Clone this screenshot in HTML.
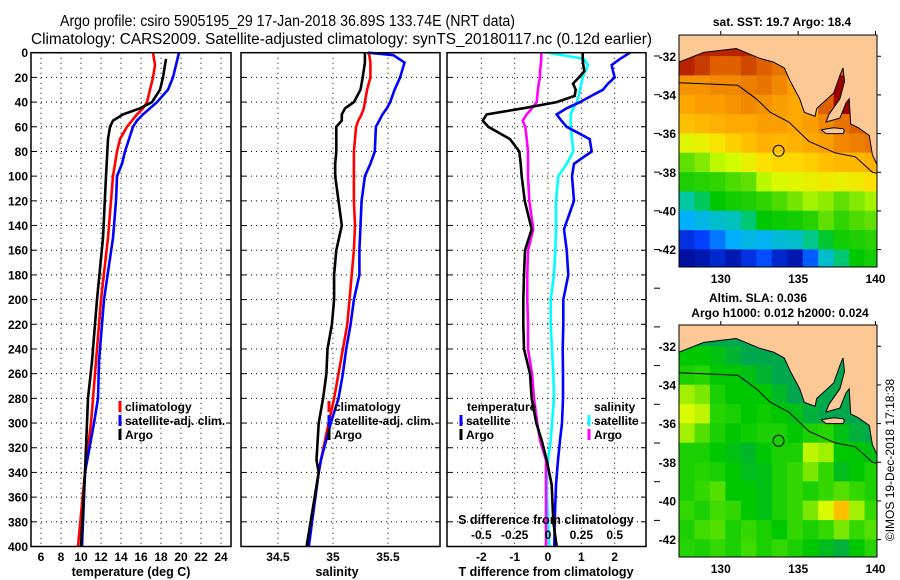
<!DOCTYPE html>
<html><head><meta charset="utf-8"><style>
html,body{margin:0;padding:0;background:#fff}
svg{display:block}
text{font-family:"Liberation Sans",Arial,sans-serif}
</style></head>
<body>
<svg id="chart" width="900" height="580" viewBox="0 0 900 580" xmlns="http://www.w3.org/2000/svg"></svg>
<script>
// ---------- DATA ----------
const depthT = [0,10,20,30,40,45,50,55,60,70,80,90,100,120,150,200,250,280,300,340,400];
const tempClim = [17.2,17.4,17.2,16.9,16.6,16.2,15.6,15.1,14.6,13.9,13.6,13.4,13.2,13.0,12.7,12.0,11.5,11.2,11.0,10.4,9.7];
const tempSat  = [19.8,19.5,19.2,18.7,17.6,16.9,16.2,15.6,15.2,14.8,14.4,14.1,13.6,13.5,13.2,12.3,11.8,11.7,11.3,10.4,10.1];
const depthArgo = [5,10,20,30,40,45,50,55,60,70,100,150,200,250,280,300,340,400];
const tempArgo = [18.5,18.4,18.2,17.9,17.1,15.9,14.2,13.2,12.9,12.7,12.5,12.2,11.6,11.1,10.7,10.6,10.4,10.0];

const depthS = [0,2,8,20,30,40,45,50,55,60,80,90,100,120,140,160,180,200,220,240,260,280,300,330,340,400];
const salClim = [35.32,35.33,35.34,35.34,35.31,35.29,35.28,35.26,35.23,35.21,35.19,35.19,35.19,35.19,35.2,35.19,35.17,35.15,35.13,35.09,35.05,35.01,34.96,34.89,34.87,34.77];
const salSat  = [35.32,35.55,35.65,35.61,35.56,35.52,35.49,35.45,35.42,35.39,35.38,35.34,35.29,35.26,35.25,35.24,35.24,35.19,35.16,35.12,35.09,35.05,34.98,34.89,34.87,34.78];
const salArgo = [35.29,35.29,35.29,35.27,35.25,35.19,35.11,35.08,35.08,35.03,35.03,35.02,35.02,35.05,35.08,35.03,35.01,35.01,34.99,34.95,34.94,34.91,34.87,34.85,34.87,34.76];

const depthD = [0,5,10,15,20,25,30,35,40,45,50,55,60,70,80,90,100,120,143,160,180,200,220,240,260,280,300,314,330,350,380,400];
const tDiffArgo = [1.04,1.04,1.06,1.09,0.93,0.75,0.83,0.8,0.26,-0.75,-1.84,-1.96,-1.79,-1.14,-0.86,-0.82,-0.79,-0.7,-0.49,-0.69,-0.72,-0.74,-0.74,-0.72,-0.54,-0.49,-0.35,-0.19,-0.04,0.11,0.16,0.26];
const tDiffSat  = [2.46,2.16,1.91,1.95,2.0,1.8,1.65,1.3,0.96,0.56,0.26,0.4,0.56,1.25,1.31,0.78,0.72,0.78,0.48,0.56,0.61,0.46,0.46,0.44,0.45,0.45,0.42,0.36,0.3,0.24,0.2,0.19];
const sDiffSat  = [0.0,0.27,0.3,0.28,0.26,0.25,0.24,0.23,0.215,0.19,0.17,0.17,0.17,0.18,0.19,0.14,0.077,0.06,0.06,0.055,0.045,0.02,0.02,0.03,0.04,0.045,0.03,0.02,0.0,-0.01,0.0,0.01];
const sDiffArgo = [-0.05,-0.05,-0.055,-0.06,-0.06,-0.07,-0.075,-0.08,-0.085,-0.12,-0.16,-0.19,-0.17,-0.16,-0.15,-0.15,-0.15,-0.14,-0.11,-0.15,-0.155,-0.155,-0.15,-0.15,-0.12,-0.105,-0.08,-0.06,-0.015,-0.015,-0.015,-0.015];

const depthTicks = [0,20,40,60,80,100,120,140,160,180,200,220,240,260,280,300,320,340,360,380,400];
const tempTicks = [6,8,10,12,14,16,18,20,22,24];
const salTicks = [34.5,35,35.5];
const tdTicks = [-2,-1,0,1,2];
const sdTicks = [-0.5,-0.25,0,0.25,0.5];
const sdTickLabels = ["-0.5","-0.25","0","0.25","0.5"];

// maps: 12 rows (lat -31..-43) x 13 cols (lon 127.3..140.3)
const sstGrid = [
[21.5,21.5,21.5,21.5,21.5,21.5,21.5,21.5,21.5,21.5,21.5,21.5,21.5],
[21.5,21.3,21,21,21.2,21,20.8,20.5,20.5,20.5,21,21,21],
[20.5,20.5,20.6,20.6,20.7,20.8,20.6,20.4,20.5,21.5,22,21,21],
[20.3,20.4,20.4,20.5,20.6,20.5,20.4,20.3,20.2,21,22,21.5,21],
[20.0,20.1,20.2,20.3,20.3,20.4,20.4,20.3,20.4,20.6,20.8,21,21],
[19.2,19.3,19.5,19.8,20,20.2,20.1,20.2,20.3,20.4,20.6,20.7,20.8],
[18,18.3,18.8,19,19.3,19.6,19.7,19.7,19.8,20,20.1,20.1,20.2],
[17.3,17.4,17.5,17.8,18,18.8,19.1,19.2,19.3,19.4,19.3,19.4,19.6],
[16.3,16.6,17,17.2,17.3,17.5,17.8,18.2,18.6,18.4,18,18.3,18.6],
[15.6,15.8,16,16.1,16.5,17,17.1,17.2,17.4,18,17.5,17.8,18],
[14.6,14.8,15.2,15.6,15.8,15.7,15.9,16,16.4,16.8,17.2,17.3,17.4],
[14.2,14.3,14.5,14.3,14.6,14.9,14.5,14.3,15,16,16.5,17,17.2]];
const slaGrid = [
[-0.08,-0.08,-0.08,-0.08,-0.08,-0.08,-0.08,-0.08,-0.08,-0.08,-0.08,-0.08,-0.08],
[0.0,0.0,-0.02,-0.05,-0.08,-0.08,-0.08,-0.08,-0.08,-0.08,-0.08,-0.08,-0.08],
[0.02,0.03,0.0,0.0,-0.02,-0.05,-0.08,-0.08,-0.08,-0.08,-0.08,-0.08,-0.08],
[0.1,0.08,0.02,0.0,0.0,0.0,-0.04,-0.08,-0.08,-0.08,-0.08,-0.08,-0.08],
[0.14,0.12,0.03,0.02,0.0,0.01,0.0,-0.02,-0.06,-0.08,-0.08,-0.08,-0.08],
[0.1,0.06,0.02,0.0,0.01,0.02,0.02,0.0,0.02,0.03,-0.02,-0.06,-0.08],
[0.02,0.02,0.0,-0.02,-0.04,0.0,0.02,0.02,0.12,0.1,0.0,0.0,-0.02],
[0.02,0.03,0.02,0.0,-0.03,-0.02,0.02,0.04,0.08,0.04,-0.03,0.0,0.02],
[0.02,0.04,0.06,0.0,0.0,-0.02,0.02,0.04,0.02,0.04,0.06,0.04,0.02],
[0.04,0.02,0.05,0.04,0.0,-0.02,0.02,0.04,0.08,0.14,0.2,0.1,0.04],
[0.02,0.05,0.06,0.02,0.04,0.02,0.0,0.04,0.02,0.04,0.08,0.04,0.06],
[0.03,0.02,0.04,0.02,0.05,0.02,0.04,0.02,0.0,-0.03,-0.06,0.0,0.03]];
const coastLon = [127.3,128.9,131.0,132.5,133.4,134.1,134.5,135.1,135.4,136.1,136.2,137.3,137.7,137.9,138.0,137.7,137.0,136.8,137.7,138.1,138.3,138.4,138.9,139.6,139.8,140.1,140.1,127.3];
const coastLat = [-32.3,-31.8,-31.6,-32.1,-32.3,-32.6,-33.3,-34.2,-34.9,-35.1,-34.7,-33.9,-33.0,-32.6,-33.3,-34.2,-35.0,-35.4,-35.2,-34.4,-34.2,-35.5,-35.7,-36.1,-37.1,-37.6,-30.9,-30.9];
const islandLon = [136.5,137.3,137.9,138.0,137.9,136.8];
const islandLat = [-35.8,-35.7,-35.75,-35.85,-36.0,-36.0];
const contourLon = [127.3,131.1,132.3,133.2,134.4,135.7,137.4,138.7,139.8,140.1];
const contourLat = [-33.37,-33.5,-34.2,-34.9,-35.4,-36.4,-37.0,-37.2,-38.0,-38.05];
const argoPos = [133.74,-36.89];
const latTicks = [-32,-34,-36,-38,-40,-42];
const lonTicks = [130,135,140];

// ---------- HELPERS ----------
const NS="http://www.w3.org/2000/svg";
const svg=document.getElementById('chart');
function mk(tag,attrs,parent){const e=document.createElementNS(NS,tag);for(const k in attrs)e.setAttribute(k,attrs[k]);(parent||svg).appendChild(e);return e;}
function txt(s,x,y,size,anchor,weight,parent){const t=mk('text',{x:x,y:y,'font-size':size,'text-anchor':anchor||'middle','font-weight':weight||'bold',fill:'#000'},parent);t.textContent=s;return t;}

const Y0=52.7, Y1=546.5;
const yD=d=>Y0+(Y1-Y0)*d/400;

function panel(name,x0,x1,xmin,xmax){
  const g=mk('g',{});
  
  
  const sx=v=>x0+(x1-x0)*(v-xmin)/(xmax-xmin);
  return {g,sx,x0,x1};
}
function frame(p){
  const r=mk('rect',{x:p.x0,y:Y0,width:p.x1-p.x0,height:Y1-Y0,fill:'none',stroke:'#000','stroke-width':1.5},p.g);
  
  
}
function hgrid(p){
  depthTicks.forEach(d=>{
    if(d===0||d===400)return;
    const l=mk('line',{x1:p.x0,x2:p.x1,y1:yD(d),y2:yD(d),stroke:'#000','stroke-width':1,'stroke-dasharray':'1 4'},p.g);
    
    
    const t1=mk('line',{x1:p.x0,x2:p.x0+5,y1:yD(d),y2:yD(d),stroke:'#000','stroke-width':1},p.g);
    
    
    const t2=mk('line',{x1:p.x1-5,x2:p.x1,y1:yD(d),y2:yD(d),stroke:'#000','stroke-width':1},p.g);
    
    
  });
}
function vgrid(p,ticks){
  ticks.forEach(v=>{
    const x=p.sx(v);
    const l=mk('line',{x1:x,x2:x,y1:Y0,y2:Y1,stroke:'#000','stroke-width':1,'stroke-dasharray':'1 4'},p.g);
    
    
  });
}
function series(p,xs,ds,sx,color,name){
  let dstr='';
  for(let i=0;i<xs.length;i++){dstr+=(i?'L':'M')+sx(xs[i]).toFixed(1)+','+yD(ds[i]).toFixed(1);}
  const pa=mk('path',{d:dstr,fill:'none',stroke:color,'stroke-width':2.6,'stroke-linejoin':'miter'},p.g);
  
  
}
function legendEntry(p,x,y,color,label,name){
  const g=mk('g',{},p.g);
  
  
  if(color)mk('line',{x1:x,x2:x,y1:y-10,y2:y+1,stroke:color,'stroke-width':3},g);
  txt(label,x+5,y,12,'start','bold',g);
}

// ---------- TITLE ----------
const t1=txt('Argo profile: csiro 5905195_29 17-Jan-2018 36.89S 133.74E (NRT data)',60,26,15.5,'start','normal');
t1.setAttribute('textLength','455');t1.setAttribute('lengthAdjust','spacingAndGlyphs');


const t2=txt('Climatology: CARS2009. Satellite-adjusted climatology: synTS_20180117.nc (0.12d earlier)',31,44,15.5,'start','normal');
t2.setAttribute('textLength','621');t2.setAttribute('lengthAdjust','spacingAndGlyphs');



// ---------- PANEL 1: temperature ----------
const p1=panel('temperature-panel',31,231,5,25);
hgrid(p1);vgrid(p1,tempTicks);
series(p1,tempClim,depthT,p1.sx,'#ff0000','temp-climatology-line');
series(p1,tempSat,depthT,p1.sx,'#0000ff','temp-satellite-line');
series(p1,tempArgo,depthArgo,p1.sx,'#000000','temp-argo-line');
frame(p1);
depthTicks.forEach(d=>{const t=txt(String(d),28,yD(d)+4.5,12,'end','bold');});
tempTicks.forEach(v=>{const t=txt(String(v),p1.sx(v),561,12,'middle','bold');});
{const t=txt('temperature (deg C)',131,576,12.5,'middle','bold');}
legendEntry(p1,120,411,'#ff0000','climatology','legend-climatology');
legendEntry(p1,120,425,'#0000ff','satellite-adj. clim.','legend-satellite');
legendEntry(p1,120,439,'#000000','Argo','legend-argo');

// ---------- PANEL 2: salinity ----------
const p2=panel('salinity-panel',241,440,34.164,35.973);
hgrid(p2);vgrid(p2,salTicks);
series(p2,salClim,depthS,p2.sx,'#ff0000','sal-climatology-line');
series(p2,salSat,depthS,p2.sx,'#0000ff','sal-satellite-line');
series(p2,salArgo,depthS,p2.sx,'#000000','sal-argo-line');
frame(p2);
salTicks.forEach(v=>{const t=txt(String(v),p2.sx(v),561,12,'middle','bold');});
{const t=txt('salinity',337,576,12.5,'middle','bold');}
legendEntry(p2,329,411,'#ff0000','climatology','legend-climatology');
legendEntry(p2,329,425,'#0000ff','satellite-adj. clim.','legend-satellite');
legendEntry(p2,329,439,'#000000','Argo','legend-argo');

// ---------- PANEL 3: differences ----------
const p3=panel('difference-panel',447,646,-3.03,2.94);
const sxS=v=>p3.sx(v*4);
hgrid(p3);vgrid(p3,tdTicks);
series(p3,sDiffSat,depthD,sxS,'#00ffff','sdiff-satellite-line');
series(p3,sDiffArgo,depthD,sxS,'#ff00ff','sdiff-argo-line');
series(p3,tDiffSat,depthD,p3.sx,'#0000ff','tdiff-satellite-line');
series(p3,tDiffArgo,depthD,p3.sx,'#000000','tdiff-argo-line');
frame(p3);
tdTicks.forEach(v=>{const t=txt(String(v),p3.sx(v),561,12,'middle','bold');});
sdTicks.forEach((v,i)=>{const t=txt(sdTickLabels[i],sxS(v),539,12,'middle','bold');});
{const t=txt('S difference from climatology',546,524,12.5,'middle','bold');}
{const t=txt('T difference from climatology',546,576,12.5,'middle','bold');}
legendEntry(p3,462,411,null,'temperature','legend-temperature-header');
legendEntry(p3,461,425,'#0000ff','satellite','legend-t-satellite');
legendEntry(p3,461,439,'#000000','Argo','legend-t-argo');
legendEntry(p3,589,411,null,'salinity','legend-salinity-header');
legendEntry(p3,589,425,'#00ffff','satellite','legend-s-satellite');
legendEntry(p3,589,439,'#ff00ff','Argo','legend-s-argo');
for(let y=56;y<546;y+=38.7){const l=mk('line',{x1:654,x2:660,y1:y,y2:y,stroke:'#000','stroke-width':1});}

// ---------- MAPS ----------
function lerpColor(stops,v){
  if(v<=stops[0][0])return 'rgb('+stops[0][1].join(',')+')';
  for(let i=1;i<stops.length;i++){if(v<=stops[i][0]){const a=stops[i-1],b=stops[i];const f=(v-a[0])/(b[0]-a[0]);
    const c=[0,1,2].map(k=>Math.round(a[1][k]+(b[1][k]-a[1][k])*f));return 'rgb('+c.join(',')+')';}}
  const l=stops[stops.length-1][1];return 'rgb('+l.join(',')+')';
}
const sstStops=[[14,[0,0,128]],[14.8,[0,64,255]],[15.6,[0,176,255]],[16.3,[0,200,160]],[17,[0,200,0]],[18,[96,224,0]],[19,[208,255,0]],[19.6,[255,224,0]],[20.3,[255,168,0]],[21,[224,96,0]],[21.8,[160,0,0]]];
const slaStops=[[-0.1,[0,160,96]],[0,[0,200,0]],[0.05,[64,220,0]],[0.1,[160,240,0]],[0.15,[232,255,0]],[0.2,[255,192,0]]];
function drawMap(name,top,grid,stops){
  const X0=679,X1=877,Y2=top,Y3=top+232;
  const lonMin=127.3,lonMax=140.1,latMax=-30.9,latMin=-42.9;
  const mx=lo=>X0+(X1-X0)*(lo-lonMin)/(lonMax-lonMin);
  const my=la=>Y2+(Y3-Y2)*(latMax-la)/(latMax-latMin);
  const g=mk('g',{});
  
  
  const cid='clip'+top;
  const cp=mk('clipPath',{id:cid},g);mk('rect',{x:X0,y:Y2,width:X1-X0,height:Y3-Y2},cp);
  const inner=mk('g',{'clip-path':'url(#'+cid+')'},g);
  grid.forEach((row,r)=>row.forEach((v,c)=>{
    const x=mx(127.3+c),y=my(-31-r);
    const cell=mk('rect',{x:x.toFixed(1),y:(y-0.2).toFixed(1),width:(mx(128.3+c)-x+0.6).toFixed(1),height:(my(-32-r)-y+0.6).toFixed(1),fill:lerpColor(stops,v)},inner);
    
    
  }));
  let d='';coastLon.forEach((lo,i)=>{d+=(i?'L':'M')+mx(lo).toFixed(1)+','+my(coastLat[i]).toFixed(1);});
  const land=mk('path',{d:d+'Z',fill:'#fcc896',stroke:'#000','stroke-width':1},inner);
  
  
  d='';islandLon.forEach((lo,i)=>{d+=(i?'L':'M')+mx(lo).toFixed(1)+','+my(islandLat[i]).toFixed(1);});
  const isl=mk('path',{d:d+'Z',fill:'#fcc896',stroke:'#000','stroke-width':1},inner);
  
  
  d='';contourLon.forEach((lo,i)=>{d+=(i?'L':'M')+mx(lo).toFixed(1)+','+my(contourLat[i]).toFixed(1);});
  const ct=mk('path',{d:d,fill:'none',stroke:'#000','stroke-width':1},inner);
  
  
  const ci=mk('circle',{cx:mx(argoPos[0]),cy:my(argoPos[1]),r:5.5,fill:'none',stroke:'#000','stroke-width':1},g);
  
  
  const fr=mk('rect',{x:X0,y:Y2,width:X1-X0,height:Y3-Y2,fill:'none',stroke:'#000','stroke-width':1},g);
  
  
  latTicks.forEach(la=>{
    const t=txt(String(la),676,my(la)+4.5,12,'end','bold',g);
    
    
    mk('line',{x1:X1,x2:X1+4,y1:my(la),y2:my(la),stroke:'#000'},g);
  });
  lonTicks.forEach(lo=>{
    const t=txt(String(lo),mx(lo),Y3+16,12,'middle','bold',g);
    
    
    mk('line',{x1:mx(lo),x2:mx(lo),y1:Y2-4,y2:Y2,stroke:'#000'},g);
  });
}
drawMap('sst-map',35,sstGrid,sstStops);
drawMap('sla-map',325,slaGrid,slaStops);
{const t=txt('sat. SST: 19.7 Argo: 18.4',782,26,12,'middle','bold');}
{const t=txt('Altim. SLA: 0.036',758,302,12,'middle','bold');}
{const t=txt('Argo h1000: 0.012 h2000: 0.024',780,317,12,'middle','bold');}
{const t=txt('©IMOS 19-Dec-2018 17:18:38',0,0,12,'middle','normal');t.setAttribute('transform','translate(894,460) rotate(-90)');}
</script>
</body></html>
